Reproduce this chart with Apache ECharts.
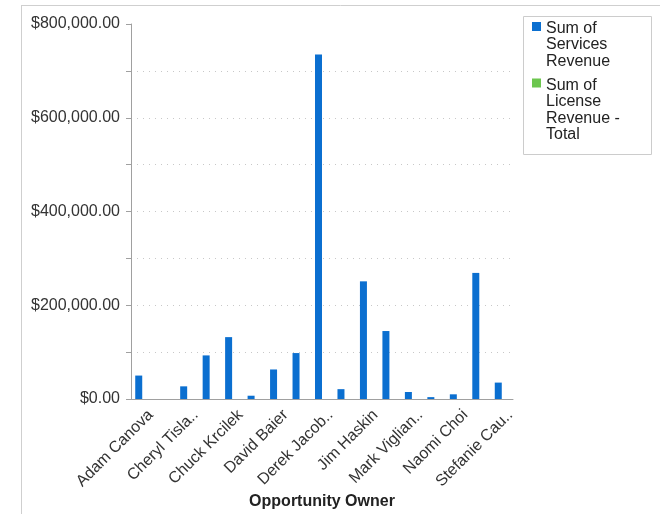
<!DOCTYPE html>
<html>
<head>
<meta charset="utf-8">
<script src="https://cdn.jsdelivr.net/npm/echarts@6/dist/echarts.min.js"></script>
<style>
  html, body { margin: 0; padding: 0; background: #fff; }
  #chart { width: 660px; height: 514px; }
</style>
</head>
<body>
<div id="chart"></div>
<script>
// owners (only every other name is printed on the axis)
const owners = [
  'Adam Canova', 'Brian Dorsey', 'Cheryl Tisla..', 'Chris Ellner', 'Chuck Krcilek', 'Dan Morrow',
  'David Baier', 'Dennis Hale', 'Derek Jacob..', 'Eric Stahl', 'Jim Haskin', 'Karen Lutz',
  'Mark Viglian..', 'Mike Perrin', 'Naomi Choi', 'Scott Wade', 'Stefanie Cau..'
];
const servicesRevenue = [
  50000, 0, 27000, 93000, 132000, 7000,
  63000, 98000, 735000, 21000, 251000, 145000,
  15000, 4000, 10000, 269000, 35000
];
const licenseRevenue = [
  0, 0, 0, 0, 0, 0,
  0, 0, 0, 0, 0, 0,
  0, 0, 0, 0, 0
];
const yTicks = [0, 200000, 400000, 600000, 800000];

const seriesNames = ['Sum of Services Revenue', 'Sum of License Revenue - Total'];
const legendText = {
  'Sum of Services Revenue': 'Sum of\nServices\nRevenue',
  'Sum of License Revenue - Total': 'Sum of\nLicense\nRevenue -\nTotal'
};
const colors = ['#0b6fd0', '#6cc64e'];
const LH = 16.5;

let myChart = echarts.init(document.getElementById('chart'));

function money(v) {
  return '$' + v.toLocaleString('en-US', { minimumFractionDigits: 2, maximumFractionDigits: 2 });
}

// icon is as tall as the text block, with the square drawn at the top,
// so it lines up with the first line instead of the middle
function legendFor(name, lines, top, sq) {
  const h = lines * LH;
  return {
    data: [name],
    orient: 'vertical',
    left: 532,
    top: top,
    padding: 0,
    itemWidth: 9,
    itemHeight: h,
    icon: 'path://M0,' + sq + 'h9v9h-9z M0,0h0.001 M0,' + h + 'h0.001',
    selectedMode: false,
    formatter: (n) => legendText[n],
    textStyle: {
      fontFamily: 'Liberation Sans',
      fontSize: 16,
      color: '#222',
      lineHeight: LH
    }
  };
}

const option = {
  animation: false,
  color: colors,
  textStyle: { fontFamily: 'Liberation Sans' },
  grid: { left: 131, right: 147, top: 24, bottom: 115, outerBoundsMode: 'none', containLabel: false },
  graphic: [
    { type: 'line', shape: { x1: 21, y1: 5.5, x2: 660, y2: 5.5 }, style: { stroke: '#cfcfcf', lineWidth: 1 } },
    { type: 'line', shape: { x1: 21.5, y1: 5, x2: 21.5, y2: 514 }, style: { stroke: '#cfcfcf', lineWidth: 1 } },
    { type: 'rect', shape: { x: 523.5, y: 16.5, width: 128, height: 138 }, style: { fill: 'none', stroke: '#cccccc', lineWidth: 1 } }
  ],
  legend: [
    legendFor(seriesNames[0], 3, 20, 2),
    legendFor(seriesNames[1], 4, 77, 1.5)
  ],
  xAxis: {
    type: 'category',
    data: owners,
    name: 'Opportunity Owner',
    nameLocation: 'middle',
    nameGap: 95,
    nameMoveOverlap: false,
    nameTextStyle: { fontSize: 16, fontWeight: 'bold', color: '#222' },
    axisLine: { lineStyle: { color: '#a0a0a0', width: 1 } },
    axisTick: { interval: 1, alignWithLabel: true, length: 5, lineStyle: { color: '#a0a0a0' } },
    axisLabel: {
      interval: 1, rotate: 45, fontSize: 16, color: '#333',
      margin: 5, verticalAlign: 'top', lineHeight: 24
    }
  },
  yAxis: {
    type: 'value',
    min: 0,
    max: 800000,
    interval: 100000,
    axisLine: { show: true, lineStyle: { color: '#a0a0a0', width: 1 } },
    axisTick: { show: true, length: 5, lineStyle: { color: '#a0a0a0' } },
    axisLabel: {
      fontSize: 16,
      color: '#333',
      margin: 11,
      formatter: (v) => (yTicks.indexOf(v) >= 0 ? money(v) : '')
    },
    splitLine: {
      show: true,
      showMinLine: false,
      showMaxLine: false,
      lineStyle: { color: '#c8c8c8', type: [1, 5], width: 1 }
    }
  },
  series: [
    {
      name: seriesNames[0],
      type: 'bar',
      data: servicesRevenue,
      barWidth: 7,
      barGap: '0%'
    },
    {
      name: seriesNames[1],
      type: 'bar',
      data: licenseRevenue,
      barWidth: 7,
      barGap: '0%'
    }
  ]
};
myChart.setOption(option);
</script>
</body>
</html>
